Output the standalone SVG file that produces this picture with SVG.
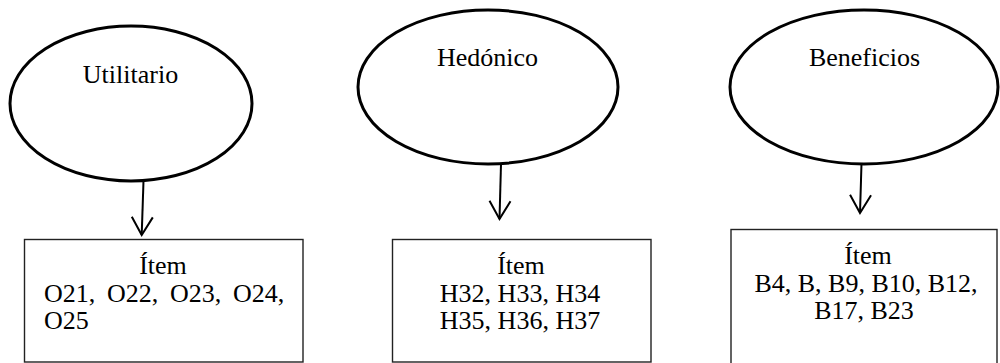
<svg xmlns="http://www.w3.org/2000/svg" width="1000" height="363" viewBox="0 0 1000 363">
  <style>
    .oval { fill: #ffffff; stroke: #000000; stroke-width: 3; }
    .box { fill: #ffffff; stroke: #222222; stroke-width: 1.4; }
    .label { font-family: "Liberation Serif", "Times New Roman", serif; font-size: 26px; fill: #000000; }
    .mid { text-anchor: middle; }
    .edge { fill: none; stroke: #000000; stroke-width: 2; }
  </style>
  <defs>
    <marker id="openArrow" markerUnits="userSpaceOnUse" markerWidth="30" markerHeight="30" refX="0" refY="0" orient="auto" overflow="visible">
      <path d="M -18 -10.5 L 0 0 L -18 10.5" fill="none" stroke="#000000" stroke-width="2"/>
    </marker>
  </defs>

  <rect x="0" y="0" width="1000" height="363" fill="#ffffff"/>

  <!-- connectors -->
  <g id="connectors">
    <path class="edge" d="M 143.5 181 L 141.7 235" marker-end="url(#openArrow)"/>
    <path class="edge" d="M 501 164 L 499.5 219" marker-end="url(#openArrow)"/>
    <path class="edge" d="M 861.7 157 L 860 213" marker-end="url(#openArrow)"/>
  </g>

  <!-- construct: Utilitario -->
  <g id="utilitario">
    <ellipse class="oval" cx="131" cy="103.5" rx="121" ry="77.5"/>
    <text class="label mid" x="130.5" y="83">Utilitario</text>
  </g>

  <!-- construct: Hedónico -->
  <g id="hedonico">
    <ellipse class="oval" cx="488" cy="87" rx="130" ry="77"/>
    <text class="label mid" x="487.5" y="66">Hedónico</text>
  </g>

  <!-- construct: Beneficios -->
  <g id="beneficios">
    <ellipse class="oval" cx="864" cy="87" rx="134" ry="77"/>
    <text class="label mid" x="864.5" y="66">Beneficios</text>
  </g>

  <!-- item box: Utilitario -->
  <g id="items-utilitario">
    <rect class="box" x="24.5" y="239.5" width="278.5" height="122.5"/>
    <text class="label mid" x="163" y="274">Ítem</text>
    <text class="label" y="302"><tspan x="44">O21,</tspan><tspan x="107">O22,</tspan><tspan x="170">O23,</tspan><tspan x="233">O24,</tspan></text>
    <text class="label" x="44" y="329">O25</text>
  </g>

  <!-- item box: Hedónico -->
  <g id="items-hedonico">
    <rect class="box" x="392.5" y="239.5" width="258.5" height="122.5"/>
    <text class="label mid" x="521" y="274">Ítem</text>
    <text class="label mid" x="520" y="302">H32, H33, H34</text>
    <text class="label mid" x="520" y="329">H35, H36, H37</text>
  </g>

  <!-- item box: Beneficios -->
  <g id="items-beneficios">
    <rect class="box" x="731" y="229.5" width="266" height="140"/>
    <text class="label mid" x="868" y="264">Ítem</text>
    <text class="label mid" x="866" y="292">B4, B, B9, B10, B12,</text>
    <text class="label mid" x="864" y="319">B17, B23</text>
  </g>
</svg>
